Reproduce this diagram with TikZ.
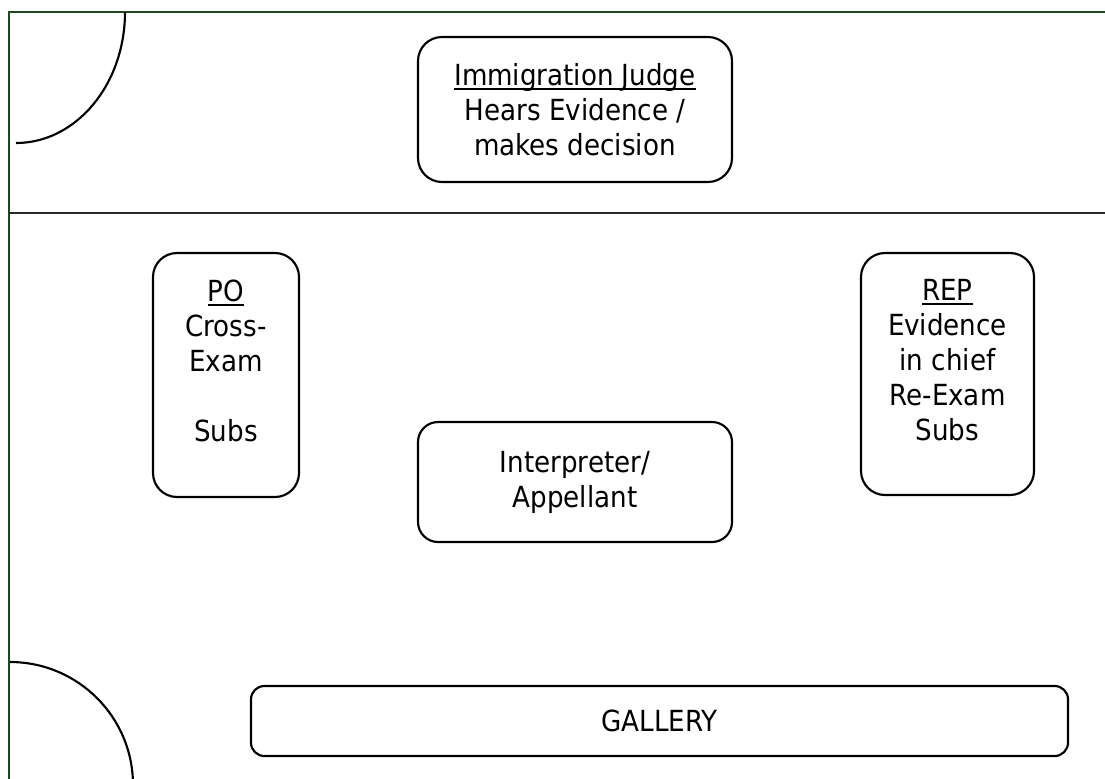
\documentclass[tikz,border=0pt]{standalone}
\usepackage{fontspec}
\setmainfont{DejaVu Sans Condensed}
\definecolor{framegreen}{RGB}{30,72,30}
\definecolor{rulegray}{RGB}{40,40,40}
\newcommand{\myul}[1]{\setbox0\hbox{#1}\rlap{\rule[-3.4pt]{\wd0}{1.3pt}}\box0}
\tikzset{
  room/.style={draw=framegreen, line width=1.8pt},
  arcline/.style={draw=black, line width=1.6pt},
  bench/.style={draw=rulegray, line width=1.6pt},
  box/.style={draw=black, line width=1.6pt, rectangle, inner sep=0pt},
  txt/.style={align=center, inner sep=0pt, font=\fontsize{21.8}{26.25}\selectfont}
}
\begin{document}
\begin{tikzpicture}[x=0.75pt,y=-0.75pt]
\useasboundingbox (0,0) rectangle (1105,778);
\clip (0,0) rectangle (1105,778);
% room walls
\coordinate (wallbl) at (9,790);
\coordinate (wallc) at (9,12);
\coordinate (walltr) at (1110,12);
\draw[room] (wallbl) -- (wallc) -- (walltr);
% door arcs
\coordinate (arcA) at (125,12);
\draw[arcline] (arcA) arc[start angle=0, end angle=90, x radius=109, y radius=131];
\coordinate (arcB) at (10,662);
\draw[arcline] (arcB) arc[start angle=-90, end angle=0, radius=123];
% bench line
\coordinate (benchL) at (9,213);
\coordinate (benchR) at (1110,213);
\draw[bench] (benchL) -- (benchR);
% boxes
\node[box, rounded corners=18pt, minimum width=235.5pt, minimum height=108.75pt] (judge) at (575,109.5) {};
\node[box, rounded corners=18pt, minimum width=109.5pt, minimum height=183pt] (po) at (226,375) {};
\node[box, rounded corners=18pt, minimum width=129.75pt, minimum height=181.5pt] (rep) at (947.5,374) {};
\node[box, rounded corners=15pt, minimum width=235.5pt, minimum height=90pt] (interp) at (575,482) {};
\node[box, rounded corners=10pt, minimum width=612.75pt, minimum height=52.5pt] (gallery) at (659.5,721) {};
% texts
\node[txt] (judgetext) at (judge.center) {\myul{Immigration Judge}\\Hears Evidence /\\makes decision};
\node[txt, yshift=10.5pt] (potext) at (po.center) {\myul{PO}\\Cross-\\Exam\\\mbox{}\\Subs};
\node[txt, yshift=10.5pt] (reptext) at (rep.center) {\myul{REP}\\Evidence\\in chief\\Re-Exam\\Subs};
\node[txt] (interptext) at (interp.center) {Interpreter/\\Appellant};
\node[txt] (gallerytext) at (gallery.center) {GALLERY};
\end{tikzpicture}
\end{document}
